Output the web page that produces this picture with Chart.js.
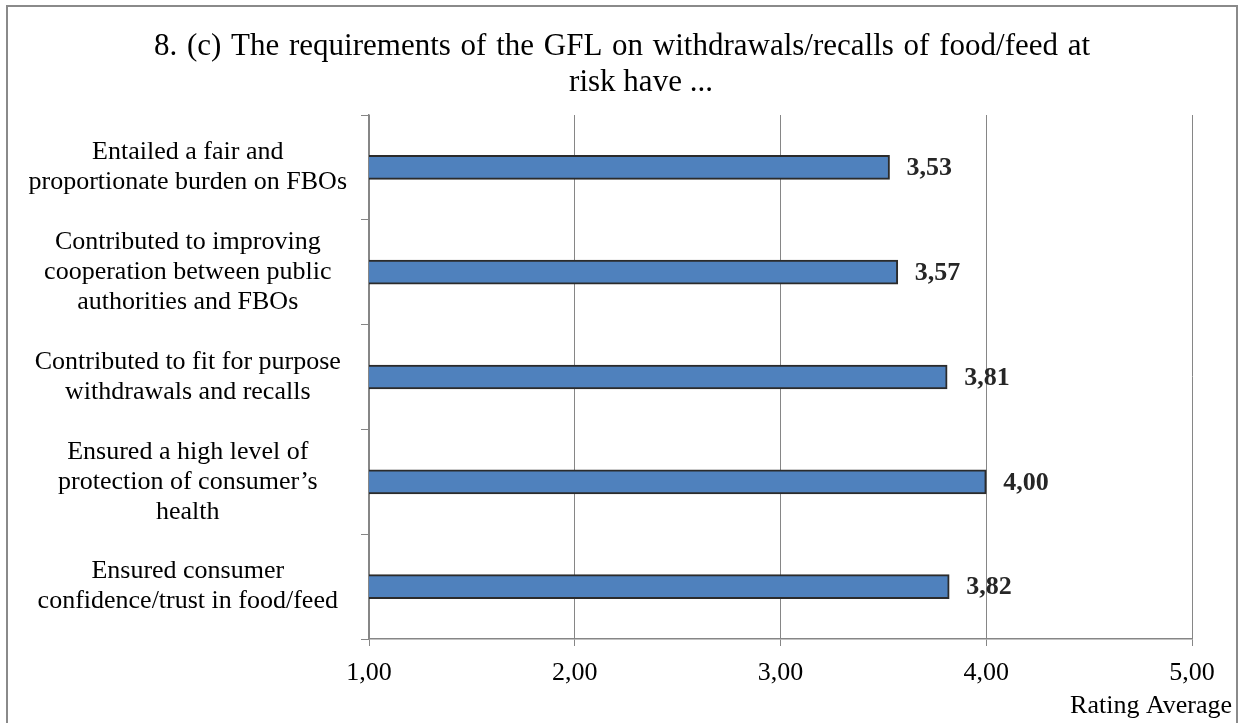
<!DOCTYPE html>
<html>
<head>
<meta charset="utf-8">
<script src="https://cdn.jsdelivr.net/npm/chart.js@4/dist/chart.umd.min.js"></script>
<style>
  html, body { margin: 0; padding: 0; background: #ffffff; }
  #wrap { width: 1244px; height: 723px; }
</style>
</head>
<body>
<div id="wrap"><canvas id="chart" width="1244" height="723"></canvas></div>
<script>
// Statements rated by respondents
const categories = [
  ["Entailed a fair and", "proportionate burden on FBOs"],
  ["Contributed to improving", "cooperation between public", "authorities and FBOs"],
  ["Contributed to fit for purpose", "withdrawals and recalls"],
  ["Ensured a high level of", "protection of consumer\u2019s", "health"],
  ["Ensured consumer", "confidence/trust in food/feed"]
];
// Rating average per statement
const ratings = [3.53, 3.57, 3.81, 4.00, 3.82];
// Value axis range
const axisMin = 1;
const axisMax = 5;
const axisStep = 1;

const titleLines = [
  "8. (c) The requirements of the GFL on withdrawals/recalls of food/feed at",
  "risk have ..."
];
const axisTitle = "Rating Average";

const SERIF = "'Liberation Serif', 'Times New Roman', serif";
const GRID = '#868686';

const fmt = v => Number(v).toFixed(2).replace('.', ',');

// White background, outer frame and the two-line heading
const framePlugin = {
  id: 'frame',
  beforeDraw(chart) {
    const ctx = chart.ctx;
    ctx.save();
    ctx.fillStyle = '#ffffff';
    ctx.fillRect(0, 0, chart.width, chart.height);
    ctx.strokeStyle = '#8a8a8a';
    ctx.lineWidth = 2;
    ctx.strokeRect(7, 6, 1230, 740);

    ctx.fillStyle = '#000000';
    ctx.font = '31px ' + SERIF;
    ctx.textAlign = 'center';
    ctx.textBaseline = 'alphabetic';
    if ('wordSpacing' in ctx) ctx.wordSpacing = '2px';
    ctx.fillText(titleLines[0], 622, 55);
    if ('wordSpacing' in ctx) ctx.wordSpacing = '0px';
    ctx.fillText(titleLines[1], 641, 91);
    ctx.restore();
  }
};

// Value labels at the end of each bar, plus the value-axis title
const labelPlugin = {
  id: 'valueLabels',
  afterDatasetsDraw(chart) {
    const ctx = chart.ctx;
    const meta = chart.getDatasetMeta(0);
    ctx.save();
    ctx.font = 'bold 26px ' + SERIF;
    ctx.fillStyle = '#262626';
    ctx.textAlign = 'left';
    ctx.textBaseline = 'middle';
    meta.data.forEach((bar, i) => {
      ctx.fillText(fmt(ratings[i]), bar.x + 17, bar.y + 1);
    });
    ctx.font = '26px ' + SERIF;
    ctx.fillStyle = '#000000';
    ctx.textAlign = 'right';
    ctx.textBaseline = 'alphabetic';
    ctx.fillText(axisTitle, 1232, 713);
    ctx.restore();
  }
};

new Chart(document.getElementById('chart'), {
  type: 'bar',
  data: {
    labels: categories,
    datasets: [{
      data: ratings,
      backgroundColor: '#4F81BD',
      borderColor: '#2b2b2b',
      borderWidth: 2,
      borderSkipped: false,
      barThickness: 24
    }]
  },
  options: {
    indexAxis: 'y',
    responsive: false,
    animation: false,
    devicePixelRatio: 1,
    layout: { padding: { left: 0, right: 52, top: 115, bottom: 0 } },
    plugins: {
      legend: { display: false },
      tooltip: { enabled: false },
      title: { display: false }
    },
    scales: {
      x: {
        type: 'linear',
        min: axisMin,
        max: axisMax,
        afterFit(scale) { scale.height = 84; },
        ticks: {
          stepSize: axisStep,
          color: '#000000',
          padding: 12,
          font: { family: SERIF, size: 26 },
          callback: v => fmt(v)
        },
        grid: {
          color: GRID,
          lineWidth: 1,
          drawTicks: true,
          tickLength: 7
        },
        border: { display: true, color: GRID, width: 1.5 }
      },
      y: {
        afterFit(scale) { scale.width = 369; },
        ticks: {
          color: '#000000',
          padding: 14,
          crossAlign: 'center',
          font: { family: SERIF, size: 26, lineHeight: 1.15 }
        },
        grid: {
          offset: true,
          drawOnChartArea: false,
          drawTicks: true,
          tickLength: 8,
          color: GRID,
          lineWidth: 1
        },
        border: { display: true, color: GRID, width: 1.5 }
      }
    }
  },
  plugins: [framePlugin, labelPlugin]
});
</script>
</body>
</html>
